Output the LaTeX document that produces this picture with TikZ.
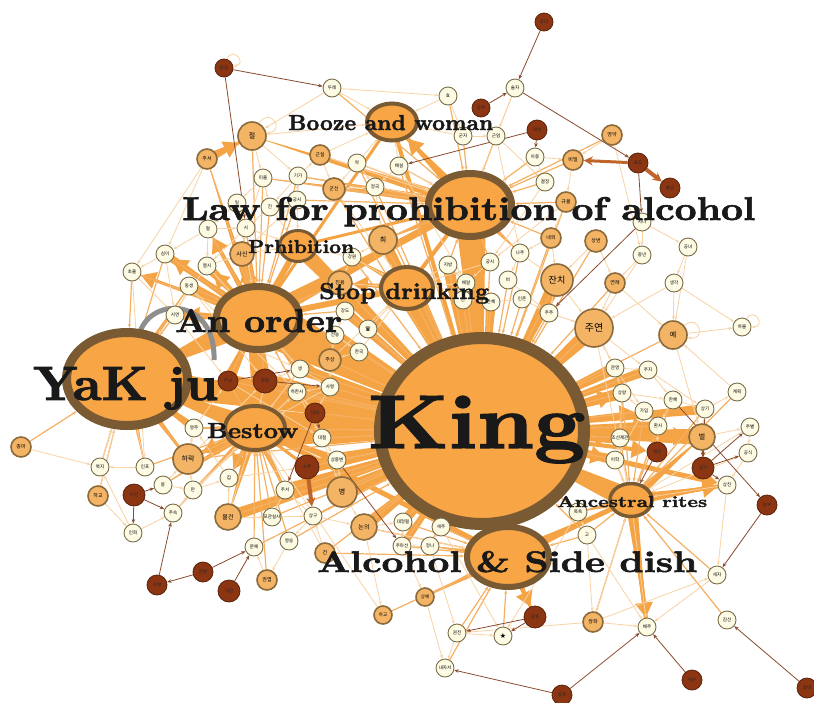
\documentclass[tikz,border=0pt]{standalone}
\usepackage{fontspec}
\usepackage{graphicx}
\newfontfamily\kr{Noto Sans CJK KR}
\newfontfamily\dvs{DejaVu Sans}
\newfontfamily\hubf{lmroman10-bold.otf}[FakeBold=1.8]
\usetikzlibrary{shapes.geometric,arrows.meta,calc}
\pgfdeclarelayer{bg}
\pgfdeclarelayer{fg}
\pgfsetlayers{bg,main,fg}
\definecolor{hubfill}{HTML}{F7A545}
\definecolor{ringc}{HTML}{7A5A32}
\definecolor{medfill}{HTML}{F3B466}
\definecolor{medring}{HTML}{8B6A3C}
\definecolor{ltfill}{HTML}{FDFBE3}
\definecolor{ltring}{HTML}{7B6E4A}
\definecolor{dkfill}{HTML}{8C3512}
\definecolor{dkring}{HTML}{5A240C}
\definecolor{edgec}{HTML}{F9D3A4}
\definecolor{fanc}{HTML}{F5B062}
\definecolor{bandc}{HTML}{F5A445}
\definecolor{dkedge}{HTML}{8A4A2E}
\definecolor{thkdk}{HTML}{C0652A}
\definecolor{arcgray}{HTML}{8E8E8E}
\newcommand\hubtext[3]{\resizebox{#1pt}{#2pt}{\hubf #3}}
\newcommand\wedgeab[3]{\fill[bandc] ($(#1.center)!#3pt!90:(#2.center)$) -- ($(#1.center)!#3pt!-90:(#2.center)$) -- (#2.center) -- cycle;}
\tikzset{
 hub/.style={ellipse, fill=hubfill, draw=ringc, inner sep=0pt},
 lt/.style={circle, fill=ltfill, draw=ltring, line width=0.9pt, minimum size=18pt, inner sep=0pt, font=\kr\fontsize{4.5}{5}\selectfont},
 md/.style={circle, fill=medfill, draw=medring, line width=1.6pt, inner sep=0pt},
 dk/.style={circle, fill=dkfill, draw=dkring, line width=0.8pt, inner sep=0pt, font=\kr\fontsize{4.5}{5}\selectfont, text=black!85},
 ed/.style={draw=edgec, line width=0.8pt, -{Stealth[length=4pt,width=3pt]}},
 fan/.style={draw=fanc, line width=1.2pt, -{Stealth[length=4pt,width=3pt]}},
 band/.style={draw=bandc, line cap=round},
 bigarrow/.style={draw=bandc, fill=bandc, -{Triangle[length=15pt,width=17pt]}},
 dked/.style={draw=dkedge, line width=0.8pt, -{Stealth[length=4.5pt,width=3.5pt]}},
 thk/.style={draw=thkdk, -{Stealth[length=9pt,width=9pt]}},
 lab/.style={anchor=base west, inner sep=0pt, text=black!90},
 grayarc/.style={draw=arcgray, line width=5pt},
}
\begin{document}
\begin{tikzpicture}[x=1pt,y=-1pt]
\useasboundingbox (0,0) rectangle (814,702);
% hubs
\node[hub, line width=12pt, minimum width=204pt, minimum height=186pt] (king) at (482,431) {};
\node[hub, line width=9pt, minimum width=121pt, minimum height=93pt] (yakju) at (127,379) {};
\node[hub, line width=7pt, minimum width=83pt, minimum height=63pt] (anorder) at (258,318) {};
\node[hub, line width=7pt, minimum width=83pt, minimum height=63pt] (law) at (470,205) {};
\node[hub, line width=4pt, minimum width=50pt, minimum height=37pt] (booze) at (392,122) {};
\node[hub, line width=3pt, minimum width=37pt, minimum height=31pt] (prhib) at (298,246) {};
\node[hub, line width=4pt, minimum width=52pt, minimum height=42pt] (stop) at (407,288) {};
\node[hub, line width=4pt, minimum width=60pt, minimum height=44pt] (bestow) at (255,428) {};
\node[hub, line width=3.5pt, minimum width=42pt, minimum height=33pt] (ances) at (631,500) {};
\node[hub, line width=6pt, minimum width=82pt, minimum height=60pt] (alcohol) at (508,557) {};
% light nodes
\foreach \n/\x/\y/\t in {l1/332/88/두레, l2/448/96/효, l3/515/88/술자, l4/463/136/군자, l5/496/136/근엄, l6/535/157/아중, l7/545/182/결정, l8/642/222/지나, l9/642/255/중년, l10/688/247/공녀, l11/674/283/생각, l12/520/253/나주, l13/490/262/궁시, l14/448/265/지방, l15/508/280/비, l16/466/283/배알, l17/463/300/연, l18/491/302/은혜, l19/522/299/인촌, l20/549/313/주주, l21/742/327/하물, l22/357/163/약, l23/399/166/배설, l24/263/178/미출, l25/298/176/기가, l26/375/187/정국, l27/297/200/궁시, l28/237/203/일, l29/270/207/진, l30/208/229/혈, l31/246/228/시, l32/165/254/심이, l33/207/266/열시, l34/132/272/초출, l35/189/286/동생, l36/175/315/시연, l37/352/257/강원, l38/345/311/강도, l40/335/335/전송, l41/359/352/한국, l42/300/369/생, l43/330/387/사령, l44/297/392/하한사, l45/322/438/대철, l46/337/460/상중변, l47/313/516/상구, l48/285/490/주서, l49/272/517/포관실사, l50/289/541/영승, l51/254/547/문예, l52/229/478/집, l53/193/490/만, l54/163/485/몽, l55/173/513/주속, l56/133/533/인회, l57/145/467/인포, l58/100/467/복지, l59/194/428/영주, l60/403/522/대정필, l61/441/527/세주, l62/402/546/주마선, l63/430/546/정나, l64/457/633/권전, l66/647/627/배주, l67/727/620/김선, l68/717/575/세자, l69/445/668/내자서, l70/578/512/목욕, l71/587/535/고, l72/727/485/상친, l73/748/453/공식, l74/750/427/주별, l75/737/392/계획, l76/705/409/상기, l77/673/400/한혜, l78/658/426/환시, l79/644/411/가입, l80/622/393/상왕, l81/615/368/관영, l82/648/370/주지, l83/620/438/조선제관, l84/615/460/이학}
  \node[lt] (\n) at (\x,\y) {\t};
\node[lt, font=\dvs\fontsize{7}{7}\selectfont] (l39) at (368,329) {♛};
\node[lt, font=\dvs\fontsize{7}{7}\selectfont] (l65) at (503,636) {★};
% medium nodes
\foreach \n/\x/\y/\r/\f/\t in {m1/612/135/10/5/영약, m2/573/160/10/5/비밀, m3/566/202/10/5/규율, m4/551/238/10/5/내외, m5/596/241/11/5/상번, m6/557/280/16/9/잔치, m7/615/283/10/5/연례, m8/594/328/19/10/주연, m9/673/335/14/7/예, m10/252/136/14/7/절, m11/207/159/10/5/주서, m12/320/155/10/5/근실, m13/334/189/11/5/군신, m14/242/254/12/6/사신, m15/383/240/14/7/최, m16/340/283/12/5/진용, m17/330/360/11/5/주상, m18/342/492/15/7/병, m19/228/517/13/6/물건, m20/98/496/10/5/하교, m21/21/447/10/5/종마, m22/188/459/15/7/허락, m23/267/580/10/5/권엽, m24/364/527/13/6/논의, m25/325/553/10/5/건, m26/425/597/9/4.5/상예, m27/383/615/9/4.5/하교, m28/593/622/10/5/쌍화, m29/702/437/13/7/벌}
  \node[md, minimum size=2*\r pt, font=\kr\fontsize{\f}{\f}\selectfont] (\n) at (\x,\y) {\t};
% dark nodes
\foreach \n/\x/\y/\r/\t in {d1/224/68/9/동궁, d2/544/22/9/궁녀, d3/481/108/9/공주, d4/537/130/10/대비, d5/638/163/10/효도, d6/670/188/10/출궁, d7/228/381/10/주냥, d8/265/381/12/명령, d9/315/413/10/대사, d10/307/467/12/소주, d11/134/495/11/아전, d12/157/585/10/사형, d13/203/572/10/관원, d14/229/591/11/내관, d15/535/617/11/궁중, d16/562/695/10/왕족, d17/692/680/10/세손, d18/807/688/10/왕비, d19/767/505/10/농부, d20/657/452/10/세산, d21/703/468/11/걸기}
  \node[dk, minimum size=2*\r pt] (\n) at (\x,\y) {\t};
\coordinate (ga1) at (140,332);
\coordinate (ga2) at (214,360);
\begin{pgfonlayer}{bg}
\fill[white] (0,0) rectangle (814,702);
% wedges (wide at first node, pointed at second)
\foreach \a/\b/\w in {anorder/king/24, bestow/king/20, yakju/king/15, law/king/16, stop/king/13, prhib/king/8, m17/king/7, d8/king/8, d7/king/7, l42/king/6, l44/king/7, m18/king/8, d10/king/7, l48/king/6, m19/king/6, alcohol/king/14, ances/king/11, m29/king/8, l78/king/5, l76/king/5, m8/king/8, m6/king/7, l14/king/6, m15/king/6, m16/king/6, l43/king/7, l46/king/7, l45/king/7, m24/king/6, l60/king/5, l81/king/6, l82/king/5, l80/king/6, l83/king/6, l84/king/5, d9/king/7, l41/king/6, l40/king/6, l38/king/5, l17/king/5, l18/king/5, l16/king/5, l62/king/4, l61/king/5, anorder/yakju/13, anorder/l36/6, anorder/l33/6, anorder/l35/5, anorder/m14/6, anorder/l30/4, anorder/l32/5, anorder/law/9, anorder/prhib/6, anorder/bestow/12, anorder/l34/4, anorder/l31/4, anorder/m11/4, bestow/yakju/10, bestow/m22/6, bestow/l59/4, bestow/l53/4, bestow/m19/5, bestow/l48/5, bestow/l54/4, bestow/l52/4, yakju/m22/5, yakju/l57/4, yakju/l35/4, law/booze/6, law/m15/5, law/l12/4, law/m13/4, law/l25/4, law/l24/4, law/m10/5, ances/l66/6, ances/l72/6, ances/m29/5, ances/l70/4, alcohol/d15/5, alcohol/m26/4, alcohol/ances/6, alcohol/l63/4, m11/m10/5, stop/m16/4, stop/l37/4, l36/anorder/5, l33/anorder/5, l35/anorder/5, l32/anorder/4, m14/anorder/5, d7/anorder/6, d8/anorder/6, l42/anorder/5, l44/bestow/5, d8/bestow/5, d7/bestow/5, l43/anorder/4, d9/bestow/4, l46/bestow/4, yakju/d7/6, l59/yakju/4}
  \wedgeab{\a}{\b}{\w};
% thick bands
\foreach \a/\b/\w in {anorder/king/12, yakju/anorder/9, yakju/bestow/7, bestow/king/11, law/king/8, law/anorder/7, stop/king/8, stop/anorder/6, prhib/king/5, prhib/anorder/6, booze/king/4, booze/law/4, booze/anorder/3, king/alcohol/10, king/ances/7, alcohol/ances/5, bestow/alcohol/5, yakju/king/8, king/m8/5, king/m6/4, law/stop/4, anorder/m14/4, bestow/m22/4, ances/l66/4, ances/l72/4, anorder/l33/4, anorder/l36/4, anorder/l32/3, bestow/l48/3, m17/anorder/3, king/d9/3, king/m17/3, bestow/d10/3, king/m18/4, king/m24/3, alcohol/d15/3, king/l80/3, king/m29/3, prhib/law/3, king/m15/3, yakju/m22/3, anorder/bestow/7, king/l83/3, king/l61/3, anorder/l35/3}
  \draw[band, line width=\w pt] (\a) -- (\b);
% big arrows
\foreach \a/\b/\w in {anorder/l32/5, anorder/l30/4, anorder/l33/4, anorder/m14/4, anorder/l36/4, anorder/l34/3, king/l72/5, king/l78/4, king/l80/4, king/d20/4, king/l79/3, ances/l66/4, ances/l72/4, m11/m10/4, bestow/m22/4, bestow/l52/3, alcohol/d15/4, king/m29/4, king/l84/3, law/booze/3, stop/m16/3, king/l83/3}
  \draw[bigarrow, line width=\w pt] (\a) -- (\b);
% fans
\foreach \n in {l14,l16,l17,l18,l19,l20,m6,m7,m8,m9,m15,m16,l37,l38,l39,l40,l41,m17,l42,l43,l44,d7,d8,d9,d10,l45,l46,l47,l48,l49,m18,m24,l60,l61,l62,l63,m25,l80,l81,l82,l83,l84,l79,l78,l70,l71,m4,m5,m3,l12,l13,l15,m13,l26,l22,l23,m22,l59,m19,l50,l51}
  \draw[fan] (\n) -- (king);
\foreach \n in {l30,l31,l32,l33,l34,l35,l36,m14,l28,l29,l24,l27,m11,m10,l25,l42,l44,d7,d8,m16,l38,l40}
  \draw[fan] (\n) -- (anorder);
\foreach \n in {l59,m22,l52,l53,l54,l55,l57,m19,l48,l49,l50,l51,d7,d8,m23,l44,l42}
  \draw[fan] (\n) -- (bestow);
\foreach \n in {l1,l2,l4,l5,l6,l7,m2,m3,l12,l13,l14,l22,l23,l26,m13,m12,l25,l24,l27,m15,m4,m1}
  \draw[fan] (\n) -- (law);
\foreach \n in {l60,l61,l62,l63,m24,m26,m27,l64,l65,l69,l71,m25}
  \draw[fan] (\n) -- (alcohol);
\foreach \n in {l70,l71,l76,l77,l78,l79,l80,l83,l84,m28,l68,l75,l67}
  \draw[fan] (\n) -- (ances);
\foreach \n in {l34,l35,l36,l57,l58,m20,m21,m22,l32}
  \draw[fan] (\n) -- (yakju);
% thin edges
\foreach \a/\b in {l1/m10, l1/booze, l1/l2, l2/booze, l4/booze, m10/l24, m10/l25, m10/booze, m11/l32, m11/l34, l24/l31, l25/m12, l25/l27, m12/booze, l22/booze, l23/booze, l26/m13, m13/stop, l27/prhib, l28/l30, l29/prhib, l30/l32, l31/m14, l32/l34, l33/yakju, m14/prhib, l37/stop, l37/prhib, m16/stop, l3/law, l3/l5, l5/l7, l6/m2, l7/l13, m2/m3, m1/m2, m1/l9, m3/l13, l8/l10, l8/l9, l10/l11, l10/m9, l9/m8, l11/l21, l11/m9, l12/m6, l13/stop, l14/stop, l15/l20, l16/stop, m6/m8, m7/m8, m9/l21, m5/m7, m4/m6, l80/l77, l82/l76, l81/l79, m9/m29, m8/ances, m8/l82, l75/m9, l73/ances, l74/ances, ances/l66, ances/m28, l64/l65, m28/l66, m28/l64, l68/l66, m26/l69, m27/bestow, m24/alcohol, m25/bestow, m21/l58, l58/yakju, l57/yakju, m20/l56, m20/yakju, l54/l53, l53/l52, l56/l58, m19/bestow, l55/bestow, l50/m23, m25/l47, m23/l51, l72/l68, l71/m28, l70/l65, l63/l64, l62/m26, l61/l65, m24/m27, l47/m24, l45/m18, l46/m18, m12/law, l22/law, l23/law, l26/law, m17/stop, l41/stop, l39/stop, l36/l42, l35/l44, l34/l57, l32/l36, l33/l42, l30/l33, l31/l33, l28/l31, l24/l28, l27/m14, l29/l31, m12/m13, l22/m13, l22/l26, l23/l26, l23/l16, l2/l4, l4/l5, l5/l12, l6/l7, m3/m4, m4/l12, l12/l15, l13/l16, l14/l16, l16/l17, l17/l18, l18/l19, l19/l20, l20/m8, m6/l20, m5/m6, m7/m9, l9/m7, l11/m8, m8/l81, l81/l82, l80/l81, l79/l80, l83/l84, l84/ances, l78/l79, l77/l76, l76/l75, l73/l72, l74/l73, m29/l76, m29/l74, l72/ances, l70/l71, l71/l66, m28/l68, l64/l69, l63/l62, l60/l62, l61/l63, m24/l60, m18/m24, l47/l50, l48/l49, l49/l47, m19/l49, m19/l52, l52/l59, m22/l59, l53/m22, l54/m22, l55/l53, l56/l55, l57/l58, l38/l40, l40/l41, l41/m17, l42/l43, l43/l44, l45/l46, l37/m16, m15/l37, l26/m15, l42/bestow, l43/bestow, d8/bestow, l44/l45, l40/m17, m17/l43, l45/d9, l46/m18, l47/l48, l31/prhib, l28/anorder, l33/m14, l30/l31, l35/l36, l34/l36, l24/l29, l25/l29, l27/l29, l77/l78, l79/l84, l80/l83, l82/l77, l81/m8, d20/l78, l36/d7, l35/d8, l44/d9, l42/d8, l43/d9, l59/d7, l52/d10, l53/l44, d7/l45, m22/d8}
  \draw[ed] (\a) -- (\b);
\draw[ed] (d1) to[out=70, in=10, looseness=4, min distance=10pt] (d1);
\draw[ed] (m10) to[out=60, in=10, looseness=4, min distance=10pt] (m10);
\draw[ed] (m9) to[out=40, in=-10, looseness=4, min distance=10pt] (m9);
\draw[ed] (l21) to[out=60, in=0, looseness=4, min distance=9pt] (l21);
% dark edges
\foreach \a/\b in {d1/l1, d1/l31, d2/l3, d3/l3, d4/l6, d4/l23, l3/d5, d5/l8, l8/l20, d9/l48, d9/l45, d11/l56, d11/l55, d11/l54, d12/l55, d13/d12, d13/l51, d14/l51, l46/l62, d15/l64, d15/l65, d16/l69, d16/l66, d17/l66, d18/l67, d19/l68, l77/d19, m29/d21, d21/l72, d21/l73, d21/l74, l76/d21, d20/ances, d8/l43, d7/l42}
  \draw[dked] (\a) -- (\b);
\draw[thk, line width=3pt] (d5) -- (m2);
\draw[thk, line width=4pt] (d5) -- (d6);
\draw[thk, line width=4pt] (d10) -- (l47);
\draw[grayarc] (ga1) .. controls (152,296) and (216,298) .. (ga2);
\end{pgfonlayer}
% labels
\begin{pgfonlayer}{fg}
\node[lab] (kingL) at (368,448) {\hubtext{217}{52}{King}};
\node[lab] (yakjuL) at (33,400) {\hubtext{185}{33}{YaK ju}};
\node[lab] (anorderL) at (175,332) {\hubtext{167}{23}{An order}};
\node[lab] (lawL) at (182,220) {\hubtext{573}{23}{Law for prohibition of alcohol}};
\node[lab] (boozeL) at (288,130) {\hubtext{205}{15}{Booze and woman}};
\node[lab] (prhibL) at (248,253) {\hubtext{106}{13}{Prhibition}};
\node[lab] (stopL) at (319,299) {\hubtext{170}{16}{Stop drinking}};
\node[lab] (bestowL) at (207,438) {\hubtext{91}{15}{Bestow}};
\node[lab] (ancesL) at (557,507) {\hubtext{150}{11}{Ancestral rites}};
\node[lab] (alcoholL) at (317,572) {\hubtext{380}{21}{Alcohol \& Side dish}};
\end{pgfonlayer}
\end{tikzpicture}
\end{document}
